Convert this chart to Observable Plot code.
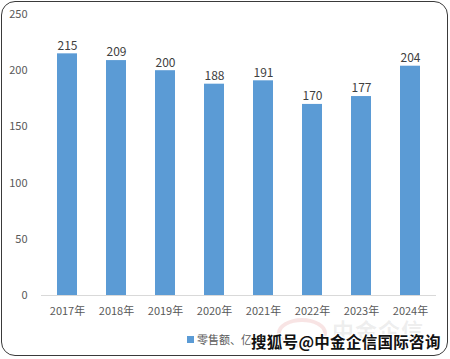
<!DOCTYPE html>
<html><head><meta charset="utf-8">
<script src="https://cdn.jsdelivr.net/npm/d3@7"></script>
<script src="https://cdn.jsdelivr.net/npm/@observablehq/plot@0.6"></script>
<style>
body{margin:0;background:#fff;}
#wrap{position:relative;width:450px;height:359px;overflow:hidden;font-family:"Noto Sans CJK SC","Noto Sans",sans-serif;}
#frame{position:absolute;left:1px;top:1px;width:445px;height:353px;border:1.5px solid #3a3a3a;border-radius:14px;pointer-events:none;}
#legend{position:absolute;left:187px;top:331px;font-size:11px;color:#595959;display:flex;align-items:center;}
#legend span.sw{display:inline-block;width:7px;height:7px;background:#5b9bd5;margin-right:3px;}
#logo{position:absolute;left:277px;top:318px;width:50px;height:30px;border-radius:50%;border:4px solid rgba(220,120,120,0.2);box-sizing:border-box;}
#logotext{position:absolute;left:332px;top:316px;font-size:22px;line-height:26px;font-weight:bold;color:rgba(150,150,150,0.16);letter-spacing:1px;}
#wm{position:absolute;left:251px;top:331px;font-size:15.5px;line-height:20px;font-weight:bold;color:#111;white-space:nowrap;letter-spacing:0.3px;text-shadow:1px 0 #fff,-1px 0 #fff,0 1px #fff,0 -1px #fff,1px 1px #fff,-1px -1px #fff,1px -1px #fff,-1px 1px #fff;}
</style></head>
<body>
<div id="wrap">
<div id="chart"></div>
<div id="legend"><span class="sw"></span>零售额、亿元</div>
<div id="logo"></div>
<div id="logotext">中金企信</div>
<div id="wm">搜狐号@中金企信国际咨询</div>
<div id="frame"></div>
</div>
<script>
const years = ["2017年","2018年","2019年","2020年","2021年","2022年","2023年","2024年"];
const values = [215,209,200,188,191,170,177,204];
const yTicks = [0,50,100,150,200,250];
const data = years.map((y,i)=>({year:y,value:values[i]}));
const chart = Plot.plot({
  width:450, height:359,
  marginLeft:41, marginRight:14, marginTop:14, marginBottom:64,
  style:{fontFamily:'"Noto Sans CJK SC","Noto Sans",sans-serif',fontSize:"11px",color:"#595959",background:"transparent"},
  x:{domain:years, paddingInner:0.595, paddingOuter:0.2975, label:null},
  y:{domain:[0,250], label:null},
  marks:[
    Plot.barY(data,{x:"year",y:"value",fill:"#5b9bd5"}),
    Plot.ruleY([0],{stroke:"#d9d9d9",strokeWidth:1}),
    Plot.axisX({tickSize:0,tickPadding:12,fill:"#595959",fontSize:11,label:null}),
    Plot.axisY({ticks:yTicks,tickSize:0,tickPadding:14,fill:"#595959",fontSize:11,label:null}),
    Plot.text(data,{x:"year",y:"value",text:d=>String(d.value),dy:-8,fill:"#404040",fontSize:12})
  ]
});
document.getElementById("chart").appendChild(chart);
</script>
</body></html>
